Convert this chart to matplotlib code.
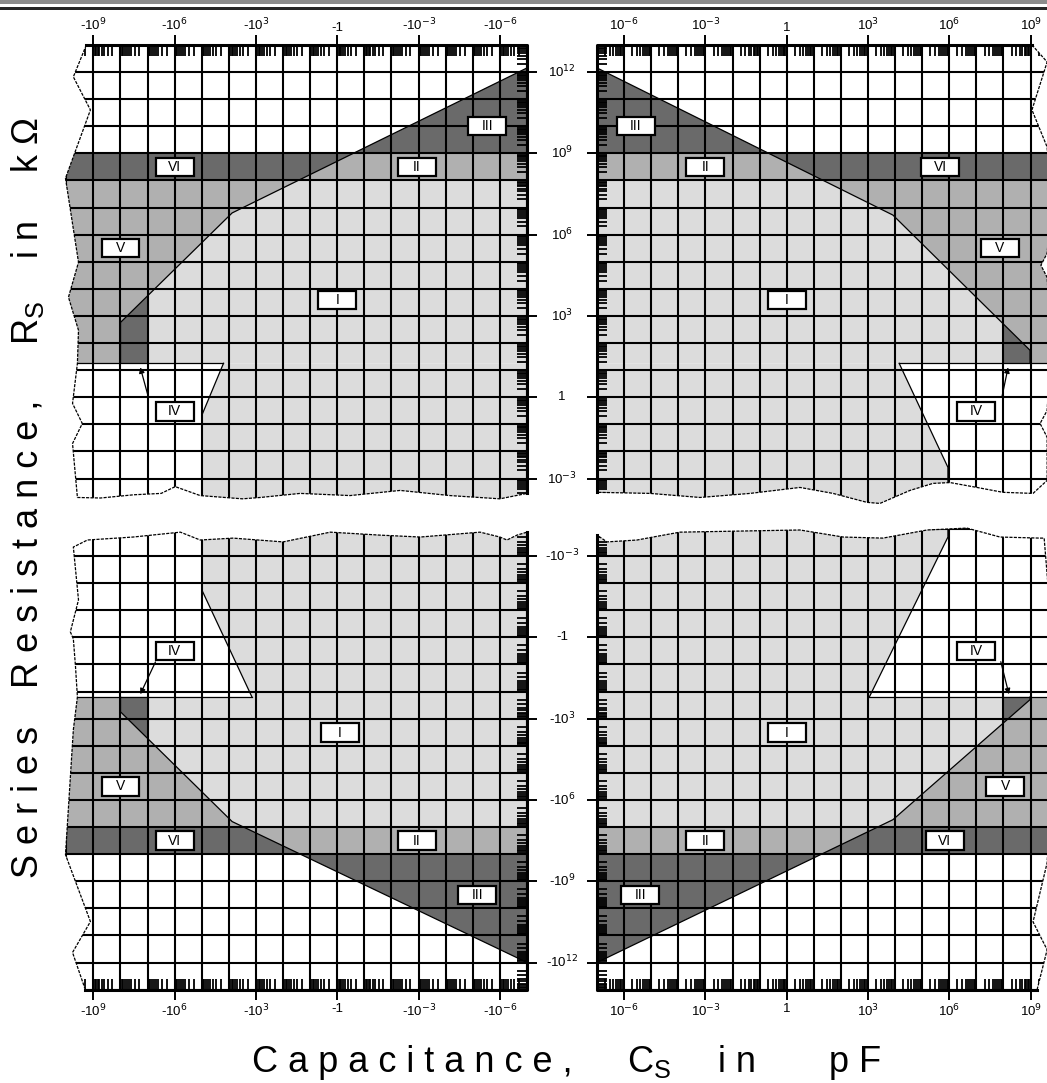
import numpy as np
import matplotlib
matplotlib.use('Agg')
import matplotlib.pyplot as plt
from matplotlib.patches import Polygon, Rectangle
from matplotlib.collections import LineCollection
from matplotlib.transforms import blended_transform_factory

plt.rcParams['font.family'] = ['Liberation Sans', 'DejaVu Sans']

W, H = 1047, 1083
LIGHT, MID, DARK = '#dcdcdc', '#b0b0b0', '#6a6a6a'

# decades on both axes: log10 |C| (pF) and log10 |R| (kOhm)
cap_decades = np.arange(-7, 11)
res_decades = np.arange(-5, 14)
cap_ticks = [-6, -3, 0, 3, 6, 9]
res_ticks = [-3, 0, 3, 6, 9, 12]
cap_labels_neg = ['-10$^{-6}$', '-10$^{-3}$', '-1', '-10$^{3}$', '-10$^{6}$', '-10$^{9}$']
cap_labels_pos = ['10$^{-6}$', '10$^{-3}$', '1', '10$^{3}$', '10$^{6}$', '10$^{9}$']
res_labels_pos = ['10$^{-3}$', '1', '10$^{3}$', '10$^{6}$', '10$^{9}$', '10$^{12}$']
res_labels_neg = ['-10$^{-3}$', '-1', '-10$^{3}$', '-10$^{6}$', '-10$^{9}$', '-10$^{12}$']

# quadrants: TL (C<0,R>0), TR (C>0,R>0), BL (C<0,R<0), BR (C>0,R<0)
# boundary line of the measurable area (log10|C|, log10|R|)
bound_c = {'TL': [-7, 3.88, 8.0], 'TR': [-7, 3.92, 8.98],
           'BL': [-7, 3.88, 8.0], 'BR': [-7, 3.92, 8.98]}
bound_r = {'TL': [12.15, 6.8, 2.76], 'TR': [12.15, 6.72, 1.73],
           'BL': [12.0, 6.8, 2.75], 'BR': [12.0, 6.73, 2.3]}
# band of regions II / VI
band_r = {'TL': (8, 9), 'TR': (8, 9), 'BL': (7, 8), 'BR': (7, 8)}
# |R| limit of region IV
floor_r = {'TL': 1.25, 'TR': 1.25, 'BL': 2.2, 'BR': 2.2}
# slanted edge of region IV
slant_c = {'TL': [4.2, 5.0, 5.0], 'TR': [4.15, 5.95, 5.95],
           'BL': [3.15, 5.0, 5.0], 'BR': [3.05, 5.95, 5.95]}
slant_r = {'TL': [1.25, -0.67, -6], 'TR': [1.25, -2.59, -6],
           'BL': [2.2, -1.75, -6], 'BR': [2.2, -3.7, -6]}

# broken (wavy) edges of each quadrant: outer |C| edge then inner |R| edge
edge_c = {
    'TL': [9.26, 9.74, 9.11, 10.03, 9.55, 9.92, 9.55, 9.59, 9.77, 9.41, 9.77, 9.59,
           8.74, 7.5, 6.5, 5.98, 5.06, 3.5, 2.84, 1.37, -0.47, -2.32, -4.16, -6.0, -7],
    'TR': [9.05, 9.61, 9.05, 9.61, 9.75, 9.61, 9.38, 9.61, 9.75, 9.61, 9.35, 9.61, 9.61, 9.09,
           7.98, 7.02, 6.03, 5.4, 4.55, 3.44, 2.96, 1.71, 0.49, -1.35, -3.2, -5.04, -7],
    'BL': [9.3, 9.77, 9.11, 10.03, 9.74, 9.59, 9.66, 9.74, 9.85, 9.55, 9.74,
           9.22, 7.53, 5.79, 5.06, 3.84, 2.0, 0.26, -1.58, -3.06, -5.27, -6.0, -6.26, -6.63, -7],
    'BR': [9.24, 9.61, 9.09, 9.61, 9.8, 9.8, 9.5,
           9.35, 7.87, 6.65, 5.18, 3.55, 2.08, 0.49, -3.94, -4.93, -5.52, -6.63, -7],
}
edge_r = {
    'TL': [13, 11.82, 10.6, 8.08, 4.98, 3.69, 2.47, 1.25, -0.23, -0.97, -1.71, -3.7,
           -3.72, -3.6, -3.55, -3.3, -3.63, -3.75, -3.7, -3.55, -3.63, -3.44, -3.63, -3.75, -3.55],
    'TR': [13, 12.37, 10.6, 9.23, 7, 5.31, 4.87, 4.42, 2, -0.49, -0.97, -1.48, -3.07, -3.55,
           -3.51, -3.33, -3.15, -3.18, -3.44, -3.92, -3.88, -3.55, -3.33, -3.55, -3.7, -3.55, -3.51],
    'BL': [13, 11.63, 10.49, 8.02, 3.41, 2.2, 1.09, 0.06, -0.2, -1.38, -3.33,
           -3.59, -3.7, -3.88, -3.59, -3.66, -3.52, -3.88, -3.77, -3.7, -3.88, -3.7, -3.59, -3.77, -3.88],
    'BR': [13, 11.53, 10.5, 8.32, 5, 0, -3.66,
           -3.66, -3.7, -4.03, -3.96, -3.66, -3.7, -3.96, -3.88, -3.7, -3.59, -3.52, -3.77],
}

region_names = ['I', 'II', 'III', 'IV', 'V', 'VI']
label_c = {'TL': [0, -2.94, -5.53, 6.0, 8.0, 6.0], 'TR': [0, -3.0, -5.56, 7.0, 7.87, 5.66],
           'BL': [-0.1, -2.94, -5.16, 6.0, 8.0, 6.0], 'BR': [0, -3.0, -5.41, 7.0, 8.06, 5.84]}
label_r = {'TL': [3.58, 8.5, 10.0, -0.52, 5.5, 8.5], 'TR': [3.58, 8.5, 10.0, -0.52, 5.5, 8.5],
           'BL': [3.52, 7.5, 9.5, 0.5, 5.5, 7.5], 'BR': [3.52, 7.5, 9.5, 0.5, 5.5, 7.5]}
# small pointer from label IV (tail -> head)
arrow_c = {'TL': (6.97, 7.27), 'TR': (7.94, 8.17), 'BL': (6.71, 7.27), 'BR': (7.9, 8.2)}
arrow_r = {'TL': (0.0, 1.1), 'TR': (0.0, 1.1), 'BL': (0.91, 2.1), 'BR': (0.9, 2.1)}

fig = plt.figure(figsize=(W / 100, H / 100), dpi=100)
fig.patch.set_facecolor('white')

# top rule of the page
fig.add_artist(Rectangle((0, 1 - 4 / H), 1, 4 / H, transform=fig.transFigure,
                         fc='#8c8c8c', ec='none'))
fig.add_artist(Rectangle((0, 1 - 10 / H), 1, 3 / H, transform=fig.transFigure,
                         fc='#262626', ec='none'))

SX, SY = 27.1, 27.1


def add_ax(left, right, top, bottom):
    ax = fig.add_axes([left / W, 1 - bottom / H, (right - left) / W, (bottom - top) / H])
    ax.set_axis_off()
    ax.patch.set_alpha(0)
    return ax


axes = {
    'TL': add_ax(527 - 18 * SX, 527, 72 - SY, 72 + 16.5 * SY),
    'TR': add_ax(597, 597 + 18 * SX, 72 - SY, 72 + 16.5 * SY),
    'BL': add_ax(527 - 18 * SX, 527, 556 - 1.5 * SY, 556 + 16 * SY),
    'BR': add_ax(597, 597 + 18 * SX, 556 - 1.5 * SY, 556 + 16 * SY),
}
for key, ax in axes.items():
    ax.set_xlim((11, -7) if key[1] == 'L' else (-7, 11))
    ax.set_ylim((-4.5, 13) if key[0] == 'T' else (13, -4.5))

minor = np.log10(np.arange(2, 10))


def draw_panel(ax, key):
    ec, er = edge_c[key], edge_r[key]
    shape = Polygon(np.column_stack([[-7] + ec, [13] + er]), closed=True,
                    fc='white', ec='none', zorder=0)
    ax.add_patch(shape)

    def clip(a):
        a.set_clip_path(shape)
        return a

    lo, hi = band_r[key]
    floor = floor_r[key]
    dc, dr = np.array(bound_c[key]), np.array(bound_r[key])

    clip(ax.add_patch(Rectangle((-7, lo), 20, hi - lo, fc=DARK, ec='none', zorder=1)))
    clip(ax.add_patch(Rectangle((-7, floor), 20, lo - floor, fc=MID, ec='none', zorder=1)))
    for r0, r1, col in [(floor, lo, LIGHT), (lo, hi, MID), (hi, dr[0], DARK)]:
        rr = np.union1d(np.linspace(r0, r1, 80), dr[(dr > r0) & (dr < r1)])
        uu = np.interp(rr, dr[::-1], dc[::-1])
        clip(ax.fill_betweenx(rr, -7, uu, fc=col, ec='none', lw=0, zorder=2))
    sc, sr = np.array(slant_c[key]), np.array(slant_r[key])
    rr = np.union1d(np.linspace(-6, floor, 80), sr)
    uu = np.interp(rr, sr[::-1], sc[::-1])
    clip(ax.fill_betweenx(rr, -7, uu, fc=LIGHT, ec='none', lw=0, zorder=2))
    cc = np.linspace(dc[-1] - 1, dc[-1], 40)
    clip(ax.fill_between(cc, floor, np.interp(cc, dc, dr), fc=DARK, ec='none', lw=0, zorder=3))

    # region borders
    thin = dict(color='black', lw=0.9, zorder=4)
    clip(ax.plot(list(dc) + [dc[-1]], list(dr) + [floor], **thin)[0])
    clip(ax.plot([sc[0], 12], [floor, floor], **thin)[0])
    clip(ax.plot(sc, sr, **thin)[0])

    # grid
    segs = [[(c, -6), (c, 14)] for c in cap_decades] + [[(-8, r), (12, r)] for r in res_decades]
    clip(ax.add_collection(LineCollection(segs, colors='black', lw=1.5, zorder=5)))
    # minor log ticks along the straight edges
    segs = []
    for d in cap_decades:
        for m in minor:
            segs.append([(d + m, 13), (d + m, 12.6)])
    for d in res_decades:
        for m in minor:
            segs.append([(-7, d + m), (-6.62, d + m)])
    clip(ax.add_collection(LineCollection(segs, colors='black', lw=1.3, zorder=5)))

    # broken edges and straight frame
    ax.plot(ec, er, color='black', lw=0.9, ls=(0, (2.5, 1)), zorder=6, clip_on=False)
    ax.plot([ec[0], -7, -7], [13, 13, er[-1]], color='black', lw=2.2, zorder=6,
            clip_on=False, solid_capstyle='projecting')
    # outward major ticks
    segs = [[(c, 13), (c, 13.38)] for c in cap_ticks]
    segs += [[(-7, r), (-7.38, r)] for r in res_ticks]
    ax.add_collection(LineCollection(segs, colors='black', lw=1.4, zorder=6, clip_on=False))

    # region labels
    for name, c, r in zip(region_names, label_c[key], label_r[key]):
        ax.add_patch(Rectangle((c - 0.7, r - 0.34), 1.4, 0.68, fc='white', ec='black',
                               lw=1.6, zorder=7))
        ax.text(c, r, name, ha='center', va='center', fontsize=10, zorder=8)
    ax.annotate('', xy=(arrow_c[key][1], arrow_r[key][1]),
                xytext=(arrow_c[key][0], arrow_r[key][0]),
                arrowprops=dict(arrowstyle='-|>', color='black', lw=0.9,
                                mutation_scale=8, shrinkA=0, shrinkB=0), zorder=8)


for key, ax in axes.items():
    draw_panel(ax, key)

# tick labels
for key, ax in axes.items():
    labels = cap_labels_neg if key[1] == 'L' else cap_labels_pos
    for c, lab in zip(cap_ticks, labels):
        if key[0] == 'T':
            ax.text(c, 13.42, lab, ha='center', va='bottom', fontsize=9.5)
        else:
            ax.text(c, 13.5, lab, ha='center', va='top', fontsize=9.5)
for key in ['TR', 'BR']:
    ax = axes[key]
    tr = blended_transform_factory(fig.transFigure, ax.transData)
    labels = res_labels_pos if key[0] == 'T' else res_labels_neg
    for r, lab in zip(res_ticks, labels):
        ax.text(562 / W, r, lab, transform=tr, ha='center', va='center', fontsize=9.5)

# axis titles, spaced lettering
xwords = [('C a p a c i t a n c e ,', 252), ('C$_\\mathregular{S}$', 627),
          ('i n', 718), ('p F', 829)]
for txt, x0 in xwords:
    fig.text(x0 / W, 1 - 1072 / H, txt, ha='left', va='baseline', fontsize=26)
ywords = [('S e r i e s', 878), ('R e s i s t a n c e ,', 688), ('R$_\\mathregular{S}$', 345),
          ('i n', 258), ('k Ω', 172)]
for txt, y0 in ywords:
    fig.text(38 / W, 1 - y0 / H, txt, ha='left', va='baseline', rotation=90,
             rotation_mode='anchor', fontsize=26)

fig.savefig('out.png', dpi=100)
